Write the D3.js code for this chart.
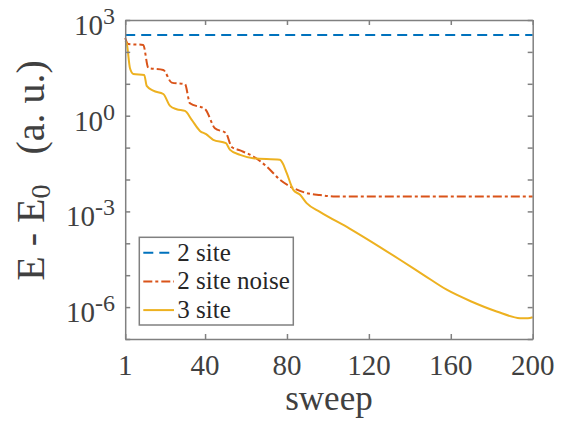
<!DOCTYPE html>
<html>
<head>
<meta charset="utf-8">
<script src="https://cdn.jsdelivr.net/npm/d3@7"></script>
<style>
  body { margin: 0; background: #fff; }
  svg { display: block; font-family: "Liberation Serif", "Times New Roman", serif; }
</style>
</head>
<body>
<svg id="chart" width="570" height="425"></svg>
<script>
// sweep values
const xTicks = [1, 40, 80, 120, 160, 200];
const yTickLabels = [3, 0, -3, -6];          // exponents shown as 10^n
const seriesNames = ["2 site", "2 site noise", "3 site"];

// 2 site: flat line
const site2X = [1, 200];
const site2Y = [340, 340];

// 2 site noise
const noiseX = [1, 2.5, 9.8, 12.3, 19.6, 23.7, 30.2, 32.6, 40, 44.8, 50.2, 53, 57.1, 63.6, 70.1, 76.6, 83.1, 89.6, 96.1, 102.6, 120, 160, 200];
const noiseY = [273, 177, 165, 31.4, 27.2, 10.9, 9.75, 2.46, 1.6, 0.406, 0.283, 0.105, 0.0818, 0.0524, 0.0255, 0.0098, 0.0054, 0.00374, 0.00324, 0.00295, 0.00292, 0.00292, 0.00292];

// 3 site
const site3X = [1, 1.73, 3.34, 4.95, 10.3, 11.5, 14.7, 19.6, 22.9, 26.1, 30.2, 33.5, 37.5, 40.5, 44, 50.2, 52.2, 57.1, 63.5, 76.5, 77.9, 79.9, 83.1, 86.4, 89.6, 96.1, 110.8, 120.5, 135.2, 146.6, 158, 170, 182.4, 193.8, 197.7, 200];
const site3Y = [220, 186, 30.7, 20.4, 19, 8.6, 6.1, 4.8, 2.03, 1.6, 1.41, 0.74, 0.334, 0.263, 0.175, 0.137, 0.085, 0.059, 0.0467, 0.0413, 0.0325, 0.0158, 0.00474, 0.00331, 0.00182, 9.7e-4, 2.85e-4, 1.2e-4, 3.05e-5, 1.03e-5, 3.5e-6, 1.5e-6, 7.3e-7, 4.5e-7, 4.45e-7, 4.8e-7];

const colors = ["#0072BD", "#D95319", "#EDB120"];
const dashes = ["10,6", "9,3,3,3", null];

const svg = d3.select("#chart");
const L = 125.2, R = 532.7, T = 20, B = 339;
const axisCol = "#808080", textCol = "#404040";

const x = d3.scaleLinear().domain([1, 200]).range([L, R]);
const y = d3.scaleLog().domain([1e-7, 1e3]).range([B, T]);

const lineGen = d3.line()
    .x(d => x(d[0]))
    .y(d => y(d[1]))
    .curve(d3.curveMonotoneX);

const series = [
    d3.zip(site2X, site2Y),
    d3.zip(noiseX, noiseY),
    d3.zip(site3X, site3Y)
];

// lines (drawn under the axes frame)
const G = svg.append("g");
series.forEach((pts, i) => {
    G.append("path")
        .attr("d", lineGen(pts))
        .attr("fill", "none")
        .attr("stroke", colors[i])
        .attr("stroke-width", 2)
        .attr("stroke-dasharray", dashes[i]);
});

// axes, ticks inward on all four sides
const decades = d3.range(-7, 4).map(e => Math.pow(10, e));
const axB = d3.axisBottom(x).tickValues(xTicks).tickSizeInner(-5).tickSizeOuter(0).tickFormat("");
const axT = d3.axisTop(x).tickValues(xTicks).tickSizeInner(-5).tickSizeOuter(0).tickFormat("");
const axL = d3.axisLeft(y).tickValues(decades).tickSizeInner(-5).tickSizeOuter(0).tickFormat("");
const axR = d3.axisRight(y).tickValues(decades).tickSizeInner(-5).tickSizeOuter(0).tickFormat("");

[[axB, `translate(0,${B})`], [axT, `translate(0,${T})`],
 [axL, `translate(${L},0)`], [axR, `translate(${R},0)`]].forEach(([ax, tr]) => {
    const g = svg.append("g").attr("transform", tr).call(ax);
    g.selectAll("path, line").attr("stroke", axisCol).attr("stroke-width", 1.5);
});

// x tick labels
svg.append("g").selectAll("text")
    .data(xTicks)
    .join("text")
    .attr("x", d => x(d))
    .attr("y", 375)
    .attr("text-anchor", "middle")
    .attr("font-size", 29)
    .attr("fill", textCol)
    .text(d => d);

// y tick labels 10^n
const yl = svg.append("g").selectAll("text")
    .data(yTickLabels)
    .join("text")
    .attr("x", 115)
    .attr("y", d => y(Math.pow(10, d)) + 15)
    .attr("text-anchor", "end")
    .attr("font-size", 29)
    .attr("fill", textCol);
yl.append("tspan").text("10");
yl.append("tspan").attr("font-size", 24).attr("dy", -11).text(d => d < 0 ? "-" + (-d) : d);

// axis titles
svg.append("text")
    .attr("x", (L + R) / 2)
    .attr("y", 410)
    .attr("text-anchor", "middle")
    .attr("font-size", 35)
    .attr("fill", textCol)
    .text("sweep");

const yt = svg.append("text")
    .attr("transform", `translate(44,${(T + B) / 2 - 9}) rotate(-90)`)
    .attr("text-anchor", "middle")
    .attr("font-size", 40)
    .attr("fill", textCol)
    .style("white-space", "pre");
yt.append("tspan").text("E - E");
yt.append("tspan").attr("font-size", 28).attr("dy", 6).text("0");
yt.append("tspan").attr("dy", -6).text("   (a. u.)");

// legend
const lg = svg.append("g");
lg.append("rect")
    .attr("x", 139.3).attr("y", 237.3)
    .attr("width", 154).attr("height", 87.7)
    .attr("fill", "#fff")
    .attr("stroke", axisCol).attr("stroke-width", 1.5);
seriesNames.forEach((name, i) => {
    const cy = 252.7 + i * 28.7;
    lg.append("line")
        .attr("x1", 143.3).attr("x2", 174)
        .attr("y1", cy).attr("y2", cy)
        .attr("stroke", colors[i])
        .attr("stroke-width", 2)
        .attr("stroke-dasharray", dashes[i]);
    lg.append("text")
        .attr("x", 177.3).attr("y", cy + 8)
        .attr("font-size", 25)
        .attr("fill", "#262626")
        .text(name);
});
</script>
</body>
</html>
